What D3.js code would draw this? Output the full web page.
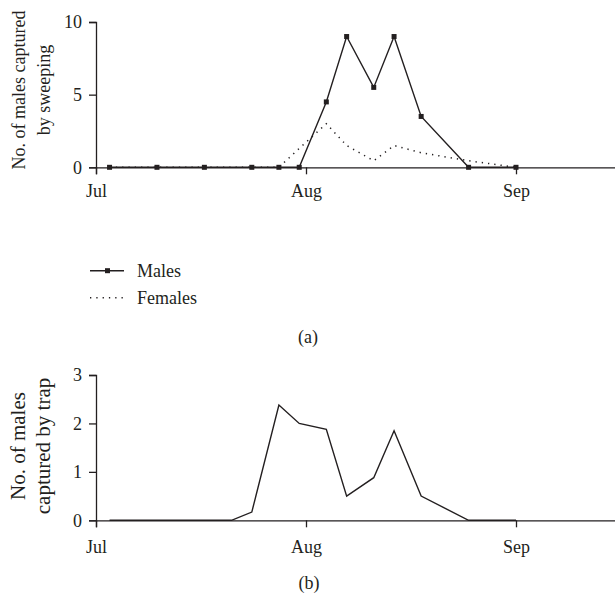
<!DOCTYPE html>
<html>
<head>
<meta charset="utf-8">
<script src="https://cdn.jsdelivr.net/npm/d3@7"></script>
<style>
  body { margin: 0; background: #fff; }
  svg text { font-family: "Liberation Serif", "Times New Roman", serif; fill: #231f20; }
  .axis path, .axis line { stroke: #231f20; stroke-width: 1.3; }
  .axis text { font-size: 18px; }
</style>
</head>
<body>
<script>
// sweeping samples (panel a)
var sweepDates = ["2009-07-03", "2009-07-10", "2009-07-17", "2009-07-24", "2009-07-28", "2009-07-31",
                  "2009-08-04", "2009-08-07", "2009-08-11", "2009-08-14", "2009-08-18", "2009-08-25", "2009-09-01"];
var males   = [0, 0, 0, 0, 0, 0, 4.5, 9, 5.5, 9, 3.5, 0, 0];
var females = [0, 0, 0, 0, 0, 1.3, 3.0, 1.5, 0.45, 1.5, 1.0, 0.45, 0];

// trap samples (panel b)
var trapDates = ["2009-07-03", "2009-07-07", "2009-07-10", "2009-07-14", "2009-07-17", "2009-07-21",
                 "2009-07-24", "2009-07-28", "2009-07-31", "2009-08-04", "2009-08-07", "2009-08-11",
                 "2009-08-14", "2009-08-18", "2009-08-25", "2009-09-01"];
var trapMales = [0, 0, 0, 0, 0, 0, 0.17, 2.38, 2.0, 1.88, 0.5, 0.88, 1.85, 0.5, 0, 0];

var monthTicks = ["2009-07-01", "2009-08-01", "2009-09-01"];
var sweepTicks = [0, 5, 10];
var trapTicks = [0, 1, 2, 3];

var parseDate = d3.timeParse("%Y-%m-%d");
var fmtMonth = d3.timeFormat("%b");

var svg = d3.select("body")
    .append("svg")
    .attr("width", 615)
    .attr("height", 598);

// shared x scale: Jul 1 -> 96px, Sep 1 -> 516px
var pxPerDay = 420 / 62;
var x = d3.scaleTime()
    .domain([parseDate("2009-07-01"), parseDate("2009-09-16")])
    .range([96, 96 + 77 * pxPerDay]);

// ---------- panel (a) ----------
var yA = d3.scaleLinear().domain([0, 10]).range([167.3, 22]);

svg.append("g")
    .attr("class", "axis")
    .attr("transform", "translate(0," + yA(0) + ")")
    .call(d3.axisBottom(x)
        .tickValues(monthTicks.map(parseDate))
        .tickFormat(fmtMonth)
        .tickSizeOuter(0)
        .tickSize(7)
        .tickPadding(10));

svg.append("g")
    .attr("class", "axis")
    .attr("transform", "translate(" + x.range()[0] + ",0)")
    .call(d3.axisLeft(yA)
        .tickValues(sweepTicks)
        .tickFormat(d3.format("d"))
        .tickSizeOuter(0)
        .tickSize(7)
        .tickPadding(7));

svg.selectAll(".axis .domain").attr("fill", "none");

var lineA = function(vals) {
    return d3.line()
        .x(function(d, i) { return x(parseDate(sweepDates[i])); })
        .y(function(d) { return yA(d); })(vals);
};

svg.append("path")
    .attr("d", lineA(females))
    .attr("fill", "none")
    .attr("stroke", "#231f20")
    .attr("stroke-width", 1.5)
    .attr("stroke-dasharray", "1.3,5");

svg.append("path")
    .attr("d", lineA(males))
    .attr("fill", "none")
    .attr("stroke", "#231f20")
    .attr("stroke-width", 1.4);

svg.append("g")
    .selectAll("rect")
    .data(males)
    .enter().append("rect")
    .attr("x", function(d, i) { return x(parseDate(sweepDates[i])) - 2.5; })
    .attr("y", function(d) { return yA(d) - 2.5; })
    .attr("width", 5)
    .attr("height", 5)
    .attr("fill", "#231f20");

// y title (a)
var titleA = svg.append("text")
    .attr("transform", "translate(0,90) rotate(-90)")
    .style("text-anchor", "middle")
    .style("font-size", "18px");
titleA.append("tspan").attr("x", 0).attr("y", 25).text("No. of males captured");
titleA.append("tspan").attr("x", 0).attr("y", 50).text("by sweeping");

// legend
var legend = svg.append("g");
legend.append("line")
    .attr("x1", 90).attr("x2", 124).attr("y1", 270.7).attr("y2", 270.7)
    .attr("stroke", "#231f20").attr("stroke-width", 1.4);
legend.append("rect")
    .attr("x", 105).attr("y", 268.2).attr("width", 5).attr("height", 5)
    .attr("fill", "#231f20");
legend.append("line")
    .attr("x1", 90).attr("x2", 124).attr("y1", 297.7).attr("y2", 297.7)
    .attr("stroke", "#231f20").attr("stroke-width", 1.5)
    .attr("stroke-dasharray", "1.3,5");
legend.append("text").attr("x", 137).attr("y", 277).style("font-size", "18px").text("Males");
legend.append("text").attr("x", 137).attr("y", 304).style("font-size", "18px").text("Females");

svg.append("text")
    .attr("x", 308).attr("y", 343)
    .style("text-anchor", "middle")
    .style("font-size", "18px")
    .text("(a)");

// ---------- panel (b) ----------
var yB = d3.scaleLinear().domain([0, 3]).range([520.3, 375]);

svg.append("g")
    .attr("class", "axis")
    .attr("transform", "translate(0," + yB(0) + ")")
    .call(d3.axisBottom(x)
        .tickValues(monthTicks.map(parseDate))
        .tickFormat(fmtMonth)
        .tickSizeOuter(0)
        .tickSize(7)
        .tickPadding(13));

svg.append("g")
    .attr("class", "axis")
    .attr("transform", "translate(" + x.range()[0] + ",0)")
    .call(d3.axisLeft(yB)
        .tickValues(trapTicks)
        .tickFormat(d3.format("d"))
        .tickSizeOuter(0)
        .tickSize(7)
        .tickPadding(7));

svg.selectAll(".axis .domain").attr("fill", "none");

svg.append("path")
    .attr("d", d3.line()
        .x(function(d, i) { return x(parseDate(trapDates[i])); })
        .y(function(d) { return yB(d); })(trapMales))
    .attr("fill", "none")
    .attr("stroke", "#231f20")
    .attr("stroke-width", 1.4);

// y title (b)
var titleB = svg.append("text")
    .attr("transform", "translate(0,446) rotate(-90)")
    .style("text-anchor", "middle")
    .style("font-size", "21px");
titleB.append("tspan").attr("x", 0).attr("y", 25).text("No. of males");
titleB.append("tspan").attr("x", 0).attr("y", 50).text("captured by trap");

svg.append("text")
    .attr("x", 309).attr("y", 589)
    .style("text-anchor", "middle")
    .style("font-size", "18px")
    .text("(b)");
</script>
</body>
</html>
